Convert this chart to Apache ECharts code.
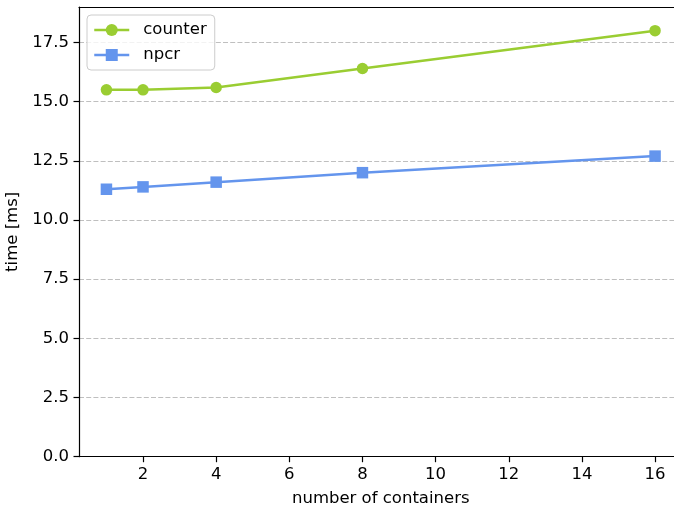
<!DOCTYPE html>
<html><head><meta charset="utf-8">
<script src="https://cdn.jsdelivr.net/npm/echarts@6/dist/echarts.min.js"></script>
<style>html,body{margin:0;padding:0;background:#fff}#c{width:674px;height:509px}</style>
</head><body><div id="c"></div>
<script>
const containers = [1, 2, 4, 8, 16];
const counterTimes = [15.5, 15.5, 15.6, 16.4, 18.0];
const npcrTimes = [11.3, 11.4, 11.6, 12.0, 12.7];
const xTicks = [2, 4, 6, 8, 10, 12, 14, 16];
const yTicks = [0, 2.5, 5, 7.5, 10, 12.5, 15, 17.5];

const font = 'DejaVu Sans';
const fs = 16.5;
const chart = echarts.init(document.getElementById('c'), null, {renderer: 'canvas'});
chart.setOption({
  animation: false,
  backgroundColor: '#fff',
  grid: {left: 79, right: -8.5, top: 7, bottom: 52.3, outerBoundsMode: 'none', containLabel: false, show: false},
  legend: {
    orient: 'vertical', left: 87, top: 15,
    padding: [5, 8, 5, 6], itemGap: 5, itemWidth: 35, itemHeight: 15,
    backgroundColor: 'rgba(255,255,255,0.8)', borderColor: '#cccccc', borderWidth: 1, borderRadius: 4,
    textStyle: {fontFamily: font, fontSize: fs, color: '#000', lineHeight: 20, padding: [0, 0, 0, 9]},
    lineStyle: {width: 2.5},
    data: ['counter', 'npcr']
  },
  xAxis: [{
    type: 'value', min: 0.25, max: 16.75,
    name: 'number of containers', nameLocation: 'middle', nameGap: 34,
    nameTextStyle: {fontFamily: font, fontSize: fs, color: '#000'},
    axisLine: {show: true, lineStyle: {color: '#000', width: 1.2}},
    axisTick: {show: true, length: 5.5, lineStyle: {color: '#000', width: 1.2}, customValues: xTicks},
    axisLabel: {fontFamily: font, fontSize: fs, color: '#000', margin: 10, customValues: xTicks},
    splitLine: {show: false}
  }, {
    type: 'value', position: 'top', min: 0.25, max: 16.75,
    axisLine: {show: true, onZero: false, lineStyle: {color: '#000', width: 1.2}},
    axisTick: {show: false}, axisLabel: {show: false}, splitLine: {show: false}
  }],
  yAxis: {
    type: 'value', min: 0, max: 19,
    name: 'time [ms]', nameLocation: 'middle', nameGap: 55,
    nameTextStyle: {fontFamily: font, fontSize: fs, color: '#000'},
    axisLine: {show: true, lineStyle: {color: '#000', width: 1.2}},
    axisTick: {show: true, length: 5.5, lineStyle: {color: '#000', width: 1.2}, customValues: yTicks},
    axisLabel: {fontFamily: font, fontSize: fs, color: '#000', margin: 10, customValues: yTicks,
      formatter: v => v.toFixed(1)},
    splitLine: {show: true, lineStyle: {color: '#bfbfbf', width: 1.2, type: [5, 2.2]}}
  },
  series: [
    {name: 'counter', type: 'line', data: containers.map((x, i) => [x, counterTimes[i]]),
      symbol: 'circle', symbolSize: 11.5, color: '#9acd32', lineStyle: {width: 2.5, color: '#9acd32'},
      itemStyle: {color: '#9acd32'}, z: 3},
    {name: 'npcr', type: 'line', data: containers.map((x, i) => [x, npcrTimes[i]]),
      symbol: 'rect', symbolSize: 11.5, color: '#6495ed', lineStyle: {width: 2.5, color: '#6495ed'},
      itemStyle: {color: '#6495ed'}, z: 3}
  ]
});
</script></body></html>
